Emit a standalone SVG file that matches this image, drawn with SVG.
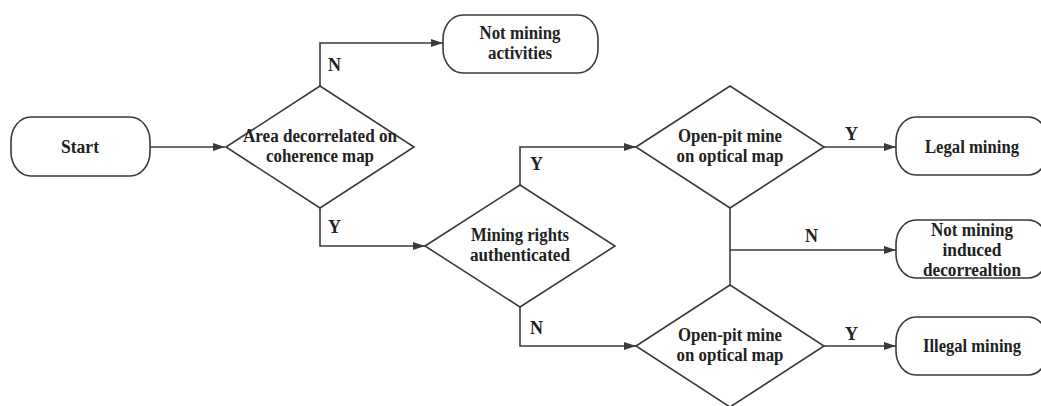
<svg xmlns="http://www.w3.org/2000/svg" width="1041" height="406" viewBox="0 0 1041 406">
<style>
.box{fill:#fff;stroke:#3a3a3a;stroke-width:1.6}
.t{font-family:'Liberation Serif','Times New Roman',Times,serif;font-weight:700;font-size:18px;fill:#222;text-anchor:middle}
.l{font-family:'Liberation Serif','Times New Roman',Times,serif;font-weight:700;font-size:18px;fill:#222}
.c{fill:none;stroke:#3a3a3a;stroke-width:1.6}
</style>
<defs>
<marker id="ah" markerUnits="userSpaceOnUse" markerWidth="13" markerHeight="9" refX="12" refY="4" orient="auto">
<path d="M0,0 L12,4 L0,8 z" fill="#3a3a3a"/>
</marker>
</defs>
<rect width="1041" height="406" fill="#fff"/>
<g id="connectors">
<path class="c" d="M150,147 H225" marker-end="url(#ah)"/>
<path class="c" d="M320,86 V43 H443" marker-end="url(#ah)"/>
<path class="c" d="M320,208 V246 H425" marker-end="url(#ah)"/>
<path class="c" d="M520,185 V147 H636" marker-end="url(#ah)"/>
<path class="c" d="M520,307 V346 H636" marker-end="url(#ah)"/>
<path class="c" d="M824,147 H896" marker-end="url(#ah)"/>
<path class="c" d="M824,346 H896" marker-end="url(#ah)"/>
<path class="c" d="M730,208 V285"/>
<path class="c" d="M730,250 H896" marker-end="url(#ah)"/>
<text class="l" x="328" y="71">N</text>
<text class="l" x="328" y="233">Y</text>
<text class="l" x="530" y="170">Y</text>
<text class="l" x="530" y="334">N</text>
<text class="l" x="845" y="140">Y</text>
<text class="l" x="845" y="340">Y</text>
<text class="l" x="805" y="242">N</text>
</g>
<g id="start">
<rect class="box" x="11" y="117" width="139" height="59" rx="20" ry="24"/>
<text class="t" x="80" y="153" textLength="38" lengthAdjust="spacingAndGlyphs">Start</text>
</g>
<g id="not-mining-activities">
<rect class="box" x="443" y="15" width="155" height="58" rx="20" ry="24"/>
<text class="t" x="520" y="39" textLength="81" lengthAdjust="spacingAndGlyphs">Not mining</text>
<text class="t" x="520" y="59" textLength="64" lengthAdjust="spacingAndGlyphs">activities</text>
</g>
<g id="decision-coherence">
<polygon class="box" points="226,147 320,86 414,147 320,208"/>
<text class="t" x="320" y="142" textLength="154" lengthAdjust="spacingAndGlyphs">Area decorrelated on</text>
<text class="t" x="320" y="162" textLength="108" lengthAdjust="spacingAndGlyphs">coherence map</text>
</g>
<g id="decision-rights">
<polygon class="box" points="425,246 520,185 615,246 520,307"/>
<text class="t" x="520" y="241" textLength="98" lengthAdjust="spacingAndGlyphs">Mining rights</text>
<text class="t" x="520" y="261" textLength="100" lengthAdjust="spacingAndGlyphs">authenticated</text>
</g>
<g id="decision-optical-1">
<polygon class="box" points="636,147 730,86 824,147 730,208"/>
<text class="t" x="730" y="142" textLength="104" lengthAdjust="spacingAndGlyphs">Open-pit mine</text>
<text class="t" x="730" y="162" textLength="107" lengthAdjust="spacingAndGlyphs">on optical map</text>
</g>
<g id="decision-optical-2">
<polygon class="box" points="636,346 730,285 824,346 730,407"/>
<text class="t" x="730" y="341" textLength="104" lengthAdjust="spacingAndGlyphs">Open-pit mine</text>
<text class="t" x="730" y="361" textLength="107" lengthAdjust="spacingAndGlyphs">on optical map</text>
</g>
<g id="legal-mining">
<rect class="box" x="896" y="117" width="152" height="58" rx="20" ry="24"/>
<text class="t" x="972" y="153" textLength="94" lengthAdjust="spacingAndGlyphs">Legal mining</text>
</g>
<g id="not-mining-induced">
<rect class="box" x="896" y="220" width="152" height="58" rx="20" ry="24"/>
<text class="t" x="972" y="236" textLength="82" lengthAdjust="spacingAndGlyphs">Not mining</text>
<text class="t" x="972" y="256" textLength="59" lengthAdjust="spacingAndGlyphs">induced</text>
<text class="t" x="972" y="276" textLength="98" lengthAdjust="spacingAndGlyphs">decorrealtion</text>
</g>
<g id="illegal-mining">
<rect class="box" x="896" y="317" width="152" height="58" rx="20" ry="24"/>
<text class="t" x="972" y="352" textLength="98" lengthAdjust="spacingAndGlyphs">Illegal mining</text>
</g>
</svg>
